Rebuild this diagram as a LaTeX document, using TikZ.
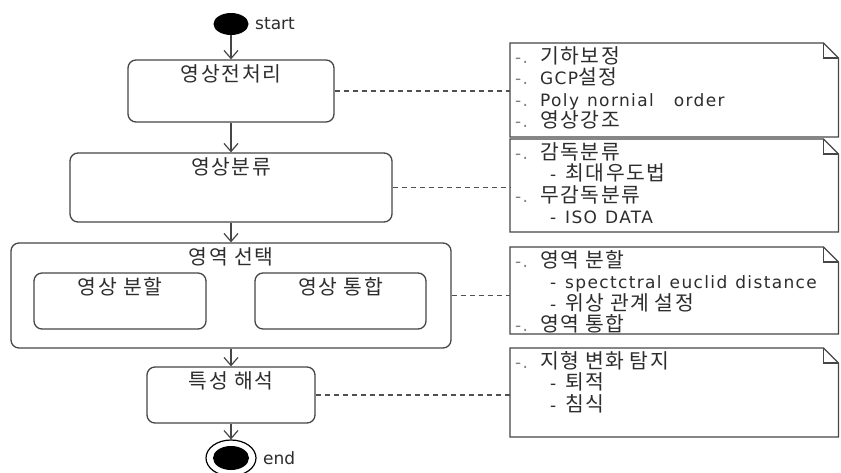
\documentclass[tikz,border=0pt]{standalone}
\usepackage{fontspec}
\usepackage{xcolor}
\usetikzlibrary{arrows.meta, positioning, shapes.geometric}
\setmainfont{DejaVu Sans}
\newfontfamily\kor[LetterSpace=8,Scale=1.2]{Noto Sans CJK KR}
\newfontfamily\notelat[LetterSpace=8]{DejaVu Sans}
\definecolor{linegray}{RGB}{70,70,70}
\definecolor{txtgray}{RGB}{45,45,45}
\definecolor{dashgray}{RGB}{80,80,80}
\newcommand\dfont{\fontsize{17pt}{21.5pt}\selectfont}
\newcommand\gap{\hspace{8pt}}
\newcommand\noteitem{\makebox[25pt][l]{\color{gray}-.}}
\newcommand\notesub{\hspace*{35pt}\makebox[15pt][l]{-}}
\newcommand\noteframe[2]{%
  \draw[noteline] (#1.north west) -- ([xshift=-15pt]#1.north east)
    -- ([yshift=-15pt]#1.north east) -- ([yshift=-#2]#1.north east)
    -- ([yshift=-#2]#1.north west) -- cycle;
  \draw[noteline] ([xshift=-15pt]#1.north east) |- ([yshift=-15pt]#1.north east);}

\begin{document}
\begin{tikzpicture}[x=1pt, y=-1pt,
          every node/.style={font=\dfont, text=txtgray},
          act/.style={draw=linegray, line width=1.3pt, rounded corners=8pt,
                      font=\dfont\kor, inner sep=3pt, text height=18pt},
          note/.style={anchor=north west, align=left, text width=318pt,
                       inner xsep=5pt, inner ysep=3pt, font=\dfont\notelat},
          noteline/.style={draw=linegray, line width=1.2pt},
          flow/.style={draw=linegray, line width=1.2pt,
                       -{Straight Barb[length=8pt,width=14pt]}},
          link/.style={draw=dashgray, line width=1.2pt, dash pattern=on 5pt off 4pt}]
        \useasboundingbox (0,0) rectangle (841,472);
        \fill[white] (0,0) rectangle (841,472);
        \node[ellipse, fill=black, minimum width=35pt, minimum height=22pt,
              inner sep=0pt] (start) at (231,24) {};
        \node[right=3pt of start] (startlbl) {start};
        \node[act, minimum width=206pt, text depth=38pt] (prep) at (231,91) {영상전처리};
        \node[act, minimum width=322pt, text depth=45pt] (classify) at (231,187.5) {영상분류};
        \node[act, minimum width=440pt, text depth=81pt] (region) at (231,295.5) {영역 선택};
        \node[act, minimum width=172pt, text depth=32pt] (split) at (120,301) {영상 분할};
        \node[act, minimum width=171pt, text depth=32pt] (merge) at (340.5,301) {영상 통합};
        \node[act, minimum width=168pt, text depth=32pt] (analyse) at (231,395) {특성 해석};
        \node[ellipse, draw=black, line width=1.2pt, minimum width=50pt,
              minimum height=36pt, inner sep=0pt] (stop) at (231,458) {};
        \node[ellipse, fill=black, minimum width=36pt, minimum height=24pt,
              inner sep=0pt] (stopin) at (stop) {};
        \node[right=3pt of stop] (stoplbl) {end};
        \draw[flow] (start) -- (prep);
        \draw[flow] (prep) -- (classify);
        \draw[flow] (classify) -- (region);
        \draw[flow] (region) -- (analyse);
        \draw[flow] (analyse) -- (stop);
        % notes on the right
        \node[note] (n1) at (510,43) {\noteitem{\kor 기하보정}\\
          \noteitem GCP{\kor 설정}\\
          \noteitem Poly\gap nornial\hspace{20pt}order\\
          \noteitem{\kor 영상강조}};
        \node[note] (n2) at (510,139) {\noteitem{\kor 감독분류}\\
          \notesub{\kor 최대우도법}\\
          \noteitem{\kor 무감독분류}\\
          \notesub ISO\gap DATA};
        \node[note] (n3) at (510,247) {\noteitem{\kor 영역 분할}\\
          \notesub spectctral\gap euclid\gap distance\\
          \notesub{\kor 위상 관계 설정}\\
          \noteitem{\kor 영역 통합}};
        \node[note] (n4) at (510,348) {\noteitem{\kor 지형 변화 탐지}\\
          \notesub{\kor 퇴적}\\
          \notesub{\kor 침식}};
        \noteframe{n1}{94pt}
        \noteframe{n2}{93pt}
        \noteframe{n3}{87pt}
        \noteframe{n4}{89pt}
        \draw[link] (prep.east) -- (prep.east -| n1.west);
        \draw[link] (classify.east) -- (classify.east -| n2.west);
        \draw[link] (region.east) -- (region.east -| n3.west);
        \draw[link] (analyse.east) -- (analyse.east -| n4.west);
      \end{tikzpicture}
\end{document}
